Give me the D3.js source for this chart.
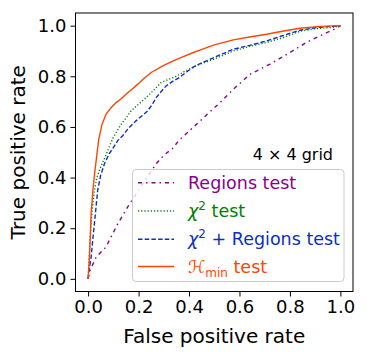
<!DOCTYPE html>
<html>
<head>
<meta charset="utf-8">
<script src="https://cdn.jsdelivr.net/npm/d3@7"></script>
<style>
  body { margin: 0; background: #fff; }
  svg { font-family: "DejaVu Sans", sans-serif; }
</style>
</head>
<body>
<div id="chart"></div>
<script>
// ROC curves
const fprRegions = [0, 0.005, 0.032, 0.071, 0.118, 0.157, 0.217, 0.27, 0.302, 0.335, 0.36, 0.401, 0.444, 0.48, 0.523, 0.576, 0.642, 0.721, 0.8, 0.866, 0.932, 0.985, 1.0];
const tprRegions = [0, 0.027, 0.086, 0.126, 0.218, 0.284, 0.376, 0.455, 0.49, 0.515, 0.547, 0.584, 0.624, 0.657, 0.696, 0.749, 0.808, 0.848, 0.894, 0.934, 0.966, 0.99, 1.0];

const fprChi = [0, 0.005, 0.008, 0.012, 0.018, 0.025, 0.035, 0.045, 0.058, 0.071, 0.085, 0.098, 0.115, 0.131, 0.15, 0.17, 0.2, 0.23, 0.26, 0.289, 0.32, 0.349, 0.38, 0.415, 0.444, 0.494, 0.576, 0.64, 0.708, 0.774, 0.84, 0.9, 0.97, 1.0];
const tprChi = [0, 0.1, 0.16, 0.22, 0.29, 0.35, 0.4, 0.43, 0.46, 0.49, 0.525, 0.555, 0.585, 0.61, 0.635, 0.663, 0.69, 0.716, 0.745, 0.775, 0.788, 0.8, 0.818, 0.835, 0.848, 0.866, 0.9, 0.918, 0.934, 0.953, 0.978, 0.988, 0.993, 1.0];

const fprBoth = [0, 0.005, 0.012, 0.018, 0.025, 0.032, 0.038, 0.05, 0.065, 0.084, 0.098, 0.118, 0.137, 0.16, 0.19, 0.215, 0.236, 0.255, 0.27, 0.29, 0.309, 0.335, 0.362, 0.39, 0.415, 0.444, 0.494, 0.576, 0.64, 0.708, 0.77, 0.84, 0.906, 0.95, 1.0];
const tprBoth = [0, 0.04, 0.086, 0.15, 0.218, 0.29, 0.35, 0.41, 0.455, 0.495, 0.515, 0.547, 0.565, 0.595, 0.624, 0.645, 0.663, 0.69, 0.716, 0.74, 0.762, 0.78, 0.795, 0.817, 0.835, 0.85, 0.872, 0.907, 0.922, 0.94, 0.96, 0.982, 0.993, 0.996, 1.0];

const fprHmin = [0, 0.005, 0.008, 0.012, 0.019, 0.025, 0.032, 0.042, 0.055, 0.071, 0.09, 0.111, 0.13, 0.15, 0.175, 0.197, 0.22, 0.25, 0.296, 0.335, 0.375, 0.415, 0.454, 0.5, 0.576, 0.64, 0.708, 0.77, 0.84, 0.92, 1.0];
const tprHmin = [0, 0.08, 0.152, 0.26, 0.35, 0.41, 0.468, 0.55, 0.61, 0.65, 0.675, 0.696, 0.71, 0.729, 0.75, 0.769, 0.79, 0.815, 0.841, 0.86, 0.877, 0.893, 0.907, 0.924, 0.944, 0.955, 0.966, 0.978, 0.99, 0.997, 1.0];

const ticks = [0, 0.2, 0.4, 0.6, 0.8, 1.0];

const series = [
  { name: "Regions", fpr: fprRegions, tpr: tprRegions, color: "#8b008b", dash: "4,4,1.5,4" },
  { name: "chi", fpr: fprChi, tpr: tprChi, color: "#008000", dash: "1.2,2" },
  { name: "both", fpr: fprBoth, tpr: tprBoth, color: "#0a2fc4", dash: "4.5,2.2" },
  { name: "hmin", fpr: fprHmin, tpr: tprHmin, color: "#ff4500", dash: null }
];

const W = 367, H = 355;
const svg = d3.select("#chart").append("svg").attr("width", W).attr("height", H);

const x = d3.scaleLinear().domain([-0.05, 1.05]).range([75.5, 353]);
const y = d3.scaleLinear().domain([-0.05, 1.05]).range([291.5, 13]);

svg.append("clipPath").attr("id", "clip")
  .append("rect")
  .attr("x", x(-0.05)).attr("y", y(1.05))
  .attr("width", x(1.05) - x(-0.05)).attr("height", y(-0.05) - y(1.05));

const plot = svg.append("g").attr("clip-path", "url(#clip)");

const line = d3.line().x(d => x(d[0])).y(d => y(d[1]));

series.forEach(s => {
  plot.append("path")
    .datum(s.fpr.map((f, i) => [f, s.tpr[i]]))
    .attr("d", line)
    .attr("fill", "none")
    .attr("stroke", s.color)
    .attr("stroke-width", 1.4)
    .attr("stroke-dasharray", s.dash);
});

// axes
const xAxis = svg.append("g")
  .attr("transform", `translate(0,${y(-0.05)})`)
  .call(d3.axisBottom(x).tickValues(ticks).tickFormat(d3.format(".1f")).tickSize(5).tickPadding(4));
const yAxis = svg.append("g")
  .attr("transform", `translate(${x(-0.05)},0)`)
  .call(d3.axisLeft(y).tickValues(ticks).tickFormat(d3.format(".1f")).tickSize(5).tickPadding(4));

[xAxis, yAxis].forEach(a => {
  a.select(".domain").remove();
  a.selectAll("text").attr("font-size", 18).attr("font-family", "DejaVu Sans").attr("fill", "#000");
  a.selectAll("line").attr("stroke", "#000").attr("stroke-width", 1);
});

svg.append("rect")
  .attr("x", x(-0.05)).attr("y", y(1.05))
  .attr("width", x(1.05) - x(-0.05)).attr("height", y(-0.05) - y(1.05))
  .attr("fill", "none").attr("stroke", "#000").attr("stroke-width", 1);

svg.append("text")
  .attr("x", (x(-0.05) + x(1.05)) / 2).attr("y", 343)
  .attr("text-anchor", "middle").attr("font-size", 20)
  .text("False positive rate");

svg.append("text")
  .attr("transform", `translate(25,${(y(-0.05) + y(1.05)) / 2}) rotate(-90)`)
  .attr("text-anchor", "middle").attr("font-size", 20)
  .text("True positive rate");

svg.append("text")
  .attr("x", 333).attr("y", 159.5)
  .attr("text-anchor", "end").attr("font-size", 16)
  .text("4 × 4 grid");

// legend
const lg = svg.append("g");
lg.append("rect")
  .attr("x", 132.5).attr("y", 169.5).attr("width", 211.5).attr("height", 112)
  .attr("rx", 3.5)
  .attr("fill", "#fff").attr("fill-opacity", 0.8)
  .attr("stroke", "#cccccc").attr("stroke-width", 1);

const rowY = [182.7, 211, 239.3, 266.5];
series.forEach((s, i) => {
  lg.append("line")
    .attr("x1", 138).attr("x2", 174)
    .attr("y1", rowY[i]).attr("y2", rowY[i])
    .attr("stroke", s.color).attr("stroke-width", 1.4)
    .attr("stroke-dasharray", s.dash);
  const t = lg.append("text")
    .attr("x", 188).attr("y", rowY[i] + 6)
    .attr("font-size", 17.5).attr("fill", s.color);
  if (s.name === "Regions") {
    t.text("Regions test");
  } else if (s.name === "chi") {
    t.append("tspan").attr("font-style", "italic").text("χ");
    t.append("tspan").attr("dy", -7).attr("font-size", 12).text("2");
    t.append("tspan").attr("dy", 7).text(" test");
  } else if (s.name === "both") {
    t.append("tspan").attr("font-style", "italic").text("χ");
    t.append("tspan").attr("dy", -7).attr("font-size", 12).text("2");
    t.append("tspan").attr("dy", 7).text(" + Regions test");
  } else {
    t.append("tspan").attr("font-style", "italic").text("ℋ");
    t.append("tspan").attr("dy", 4).attr("font-size", 12).text("min");
    t.append("tspan").attr("dy", -4).text(" test");
  }
});
</script>
</body>
</html>
